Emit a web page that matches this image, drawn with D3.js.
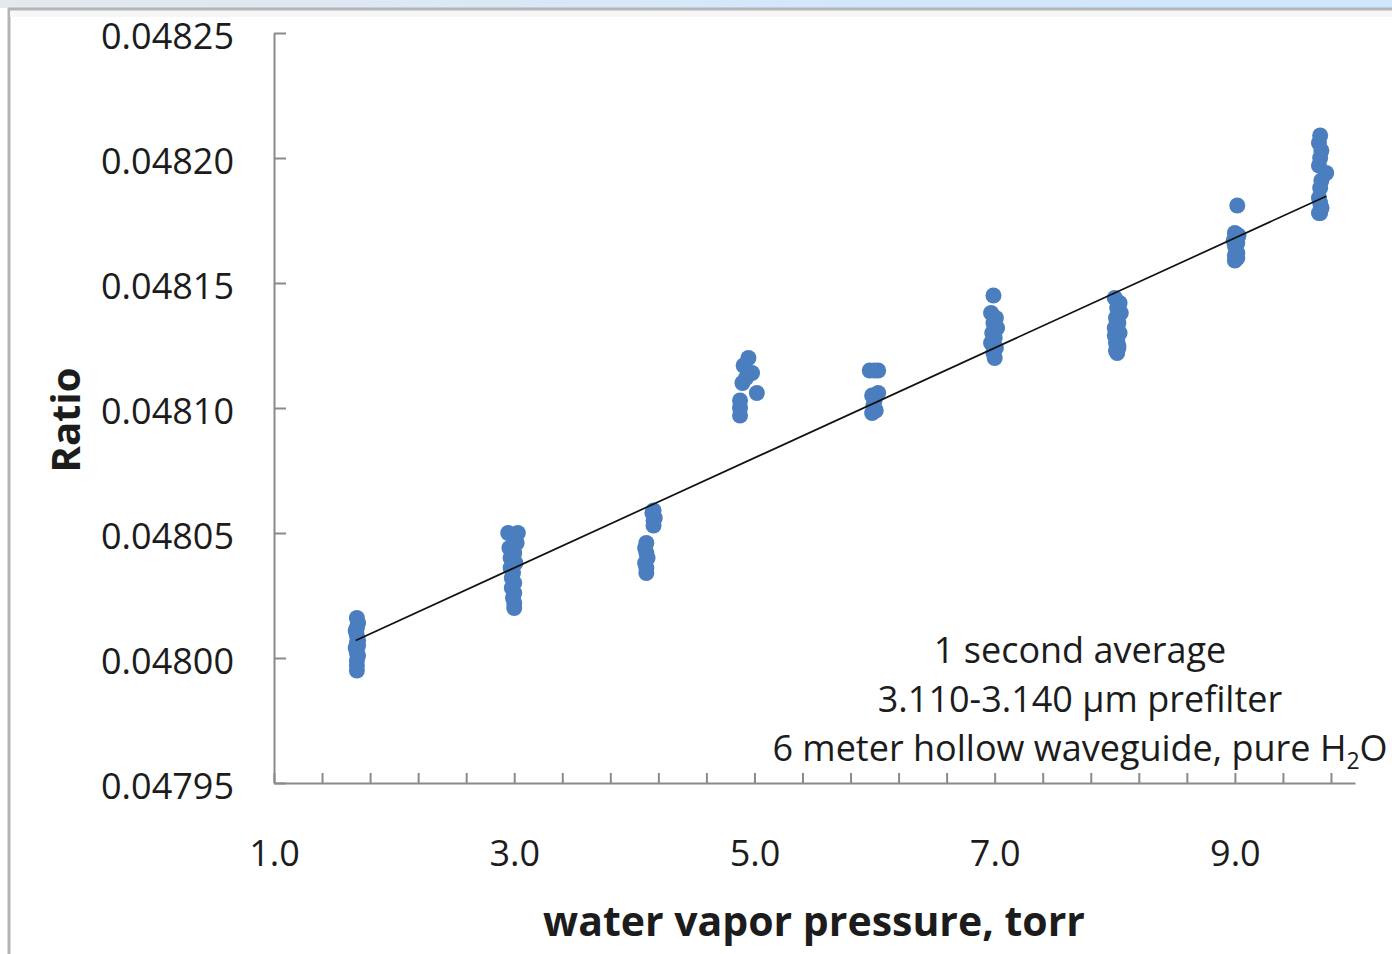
<!DOCTYPE html>
<html><head><meta charset="utf-8">
<script src="https://cdn.jsdelivr.net/npm/d3@7"></script>
<style>
body{margin:0;background:#fff;}
svg{display:block;}
text{font-family:"Open Sans",sans-serif;fill:#1c1c1c;}
</style>
</head><body>
<svg id="chart" width="1392" height="954"></svg>
<script>
// ---- data ----
const pressure = [
  // ~1.7 torr
  1.69,1.70,1.69,1.68,1.69,1.70,1.69,1.68,1.69,1.70,1.69,1.69,1.69,1.70,
  // ~3.0 torr
  2.95,3.03,3.02,2.96,3.00,2.97,3.01,2.97,2.99,2.98,3.00,2.98,3.00,2.99,3.00,3.00,
  // ~4.1 torr
  4.16,4.15,4.17,4.16,4.16,4.10,4.09,4.10,4.11,4.09,4.10,4.10,
  // ~4.9 torr
  4.95,4.91,4.98,4.90,5.02,4.88,4.88,4.88,4.93,
  // ~6.0 torr
  5.96,6.03,6.00,6.03,5.98,6.00,5.99,6.01,5.98,
  // ~7.0 torr
  6.99,6.97,7.01,6.99,7.02,6.98,7.00,6.97,7.01,6.99,7.00,
  // ~8.0 torr
  8.00,8.04,8.02,8.05,8.01,8.03,8.00,8.04,8.02,8.01,8.03,8.02,8.01,8.03,8.02,8.00,
  // ~9.0 torr
  9.02,9.00,9.03,8.99,9.02,9.00,9.01,9.02,9.00,9.01,9.02,9.00,
  // ~9.7 torr
  9.71,9.70,9.72,9.71,9.70,9.76,9.72,9.71,9.70,9.71,9.72,9.71,9.70,9.72
];
const ratio = [
  0.048016,0.048014,0.048012,0.048011,0.048009,0.048007,0.048006,0.048004,0.048002,0.048001,0.047999,0.047997,0.047995,0.048005,
  0.048050,0.048050,0.048046,0.048044,0.048042,0.048040,0.048038,0.048036,0.048034,0.048032,0.048030,0.048028,0.048026,0.048024,0.048022,0.048020,
  0.048059,0.048058,0.048056,0.048055,0.048053,0.048046,0.048044,0.048042,0.048040,0.048038,0.048036,0.048034,
  0.048120,0.048117,0.048114,0.048110,0.048106,0.048103,0.048100,0.048097,0.048112,
  0.048115,0.048115,0.048115,0.048106,0.048105,0.048103,0.048101,0.048099,0.048098,
  0.048145,0.048138,0.048136,0.048134,0.048132,0.048130,0.048128,0.048126,0.048124,0.048122,0.048120,
  0.048144,0.048142,0.048140,0.048138,0.048136,0.048134,0.048132,0.048130,0.048128,0.048126,0.048124,0.048122,0.048123,0.048125,0.048127,0.048129,
  0.048181,0.048170,0.048169,0.048167,0.048166,0.048165,0.048163,0.048162,0.048161,0.048160,0.048160,0.048159,
  0.048209,0.048206,0.048203,0.048200,0.048197,0.048194,0.048191,0.048188,0.048184,0.048182,0.048180,0.048178,0.048178,0.048180
];
const xDomain = [1, 10];
const yDomain = [0.04795, 0.04825];
const xLabelTicks = [1, 3, 5, 7, 9];
const xMinorStep = 0.4;
const yTickValues = [0.04795, 0.04800, 0.04805, 0.04810, 0.04815, 0.04820, 0.04825];
const xTitle = "water vapor pressure, torr";
const yTitle = "Ratio";
const noteLines = ["1 second average", "3.110-3.140 \u03bcm prefilter"];
const noteLast = ["6 meter hollow waveguide, pure H", "2", "O"];

// ---- drawing ----
const svg = d3.select("#chart");
const defs = svg.append("defs");
const grad = defs.append("linearGradient").attr("id","topg").attr("x1","0").attr("x2","1");
grad.append("stop").attr("offset","0").attr("stop-color","#e4e9ee");
grad.append("stop").attr("offset","0.6").attr("stop-color","#d3e7fb");
grad.append("stop").attr("offset","1").attr("stop-color","#cfe6fd");
svg.append("rect").attr("x",0).attr("y",0).attr("width",1392).attr("height",8).attr("fill","url(#topg)");
svg.append("line").attr("x1",8).attr("x2",1392).attr("y1",9).attr("y2",9).attr("stroke","#b4b4b4").attr("stroke-width",3);
svg.append("line").attr("x1",9).attr("x2",9).attr("y1",8).attr("y2",954).attr("stroke","#b4b4b4").attr("stroke-width",3);
svg.append("rect").attr("x",10).attr("y",11).attr("width",1382).attr("height",6).attr("fill","#f6f6f6");

const x = d3.scaleLinear().domain(xDomain).range([274, 1355]);
const y = d3.scaleLinear().domain(yDomain).range([783, 33]);

const axisColor = "#8a8a8a";
// x axis with minor ticks pointing up
const minorTicks = d3.range(xDomain[0], xDomain[1] - 1e-9, xMinorStep);
const gx = svg.append("g").attr("transform","translate(0,783)")
  .call(d3.axisBottom(x).tickValues(minorTicks).tickSizeInner(-10).tickSizeOuter(0).tickFormat(""));
gx.selectAll("path,line").attr("stroke",axisColor).attr("stroke-width",2);
const gxl = svg.append("g").attr("transform","translate(0,783)")
  .call(d3.axisBottom(x).tickValues(xLabelTicks).tickSize(0).tickPadding(57).tickFormat(d3.format(".1f")));
gxl.select(".domain").remove();
gxl.selectAll("text").attr("font-size",36).attr("font-family","Open Sans").attr("fill","#1c1c1c");

// y axis
const gy = svg.append("g").attr("transform","translate(274,0)")
  .call(d3.axisLeft(y).tickValues(yTickValues).tickSizeInner(-12).tickSizeOuter(0).tickPadding(40).tickFormat(d3.format(".5f")));
gy.selectAll("path,line").attr("stroke",axisColor).attr("stroke-width",2);
gy.selectAll("text").attr("font-size",36).attr("font-family","Open Sans").attr("fill","#1c1c1c").attr("dy","0.42em");

// points
const pts = pressure.map((p,i)=>({p, r: ratio[i]}));
svg.append("g").selectAll("circle").data(pts).join("circle")
  .attr("cx",d=>x(d.p)).attr("cy",d=>y(d.r)).attr("r",8).attr("fill","#4a7ebf");

// linear trendline (least squares)
const mx = d3.mean(pressure), my = d3.mean(ratio);
const sxy = d3.sum(pts, d=>(d.p-mx)*(d.r-my)), sxx = d3.sum(pts, d=>(d.p-mx)*(d.p-mx));
const slope = sxy/sxx, icpt = my - slope*mx;
const ext = d3.extent(pressure);
svg.append("path").datum(ext)
  .attr("d", d3.line().x(d=>x(d)).y(d=>y(icpt+slope*d)))
  .attr("stroke","#111").attr("stroke-width",1.7).attr("fill","none");

// titles
svg.append("text").attr("x",814).attr("y",936).attr("text-anchor","middle")
  .attr("font-size",41).attr("font-weight","bold").text(xTitle);
svg.append("text").attr("transform","translate(80,420) rotate(-90)").attr("text-anchor","middle")
  .attr("font-size",40).attr("font-weight","bold").text(yTitle);

// note
const noteBase = [663, 712];
noteLines.forEach((t,i)=>{
  svg.append("text").attr("x",1080).attr("y",noteBase[i]).attr("text-anchor","middle").attr("font-size",36).text(t);
});
const t3 = svg.append("text").attr("x",1080).attr("y",761).attr("text-anchor","middle").attr("font-size",36);
t3.append("tspan").text(noteLast[0]);
t3.append("tspan").attr("font-size",23).attr("dy",8).text(noteLast[1]);
t3.append("tspan").attr("dy",-8).text(noteLast[2]);
</script>
</body></html>
